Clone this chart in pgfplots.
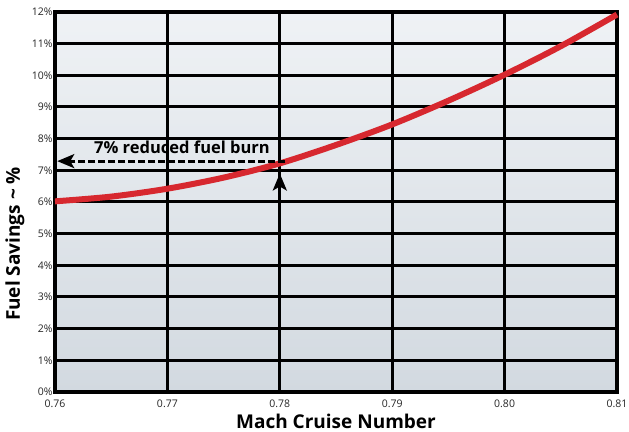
\documentclass[border=0pt]{standalone}
\usepackage{fontspec}
\setmainfont{Open Sans}
\usepackage{pgfplots}
\pgfplotsset{compat=1.18}
\usetikzlibrary{arrows.meta}
\definecolor{curvered}{HTML}{D7282F}
\definecolor{bgtop}{HTML}{EFF2F5}
\definecolor{bgbot}{HTML}{D2D9E0}
\begin{document}
\begin{tikzpicture}
\begin{axis}[
  scale only axis,
  width=562pt, height=380pt,
  xmin=0.76, xmax=0.81, ymin=0, ymax=12,
  xtick={0.76,0.77,0.78,0.79,0.80,0.81},
  ytick={0,1,...,12},
  /pgf/number format/assume math mode=true,
  xticklabel={\pgfmathprintnumber[fixed,fixed zerofill,precision=2]{\tick}},
  yticklabel={\pgfmathprintnumber{\tick}\%},
  tick label style={font=\fontsize{10.5}{12}\selectfont, text=black!85},
  xticklabel style={yshift=-4pt},
  yticklabel style={xshift=1pt},
  major tick length=0pt,
  grid=major,
  major grid style={black, line width=3pt},
  axis line style={black, line width=4.5pt},
  axis background/.style={top color=bgtop, bottom color=bgbot},
  xlabel={\textbf{Mach Cruise Number}},
  ylabel={\textbf{Fuel Savings \textasciitilde\ \%}},
  label style={font=\fontsize{19}{20}\selectfont},
  xlabel style={at={(axis description cs:0.5,0)}, anchor=center, inner sep=0pt, yshift=-29pt},
  ylabel style={at={(axis description cs:0,0.5)}, anchor=center, inner sep=0pt, xshift=-42pt, yshift=40pt},
  clip=false,
]
\addplot[curvered, line width=6pt, smooth] coordinates {
(0.760,6.02)(0.765,6.17)(0.770,6.42)(0.775,6.77)(0.780,7.22)(0.785,7.80)
(0.790,8.45)(0.795,9.20)(0.800,10.02)(0.805,10.92)(0.810,11.92)};
\addplot[black, line width=2.8pt, dash pattern=on 7pt off 3pt, -{Stealth[length=17pt,width=14pt,inset=4pt]}] coordinates {(0.78,0)(0.78,6.9)};
\addplot[black, line width=2.8pt, dash pattern=on 7pt off 3pt, -{Stealth[length=17pt,width=14pt,inset=4pt]}] coordinates {(0.7805,7.29)(0.7602,7.29)};
\node[font=\bfseries\fontsize{16.5}{17}\selectfont] at (axis cs:0.7713,7.72) {7\% reduced fuel burn};
\end{axis}
\pgfresetboundingbox
\useasboundingbox (current axis.south west) ++(-55pt,-40pt) rectangle ([shift={(12pt,12pt)}]current axis.north east);
\end{tikzpicture}
\end{document}
